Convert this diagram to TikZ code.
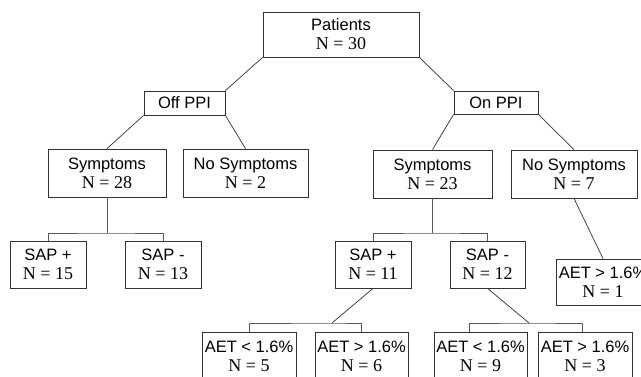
\documentclass[tikz,border=0pt]{standalone}
\usepackage{fontspec}
\setmainfont{Liberation Serif}
\setsansfont{Liberation Sans}
\newcommand\twoline[2]{{\sffamily\fontsize{16.5}{19}\selectfont #1}\\{\rmfamily\fontsize{18}{19}\selectfont #2}}
\tikzset{
  box/.style={draw=black!80, line width=0.8pt, inner sep=0pt, align=center,
    font=\rmfamily\fontsize{18}{19}\selectfont},
  onebox/.style={draw=black!80, line width=0.8pt, inner sep=0pt, align=center,
    font=\sffamily\fontsize{16.5}{19}\selectfont},
  conn/.style={draw=black!80, line width=0.7pt},
  brk/.style={draw=black!65, line width=0.8pt},
}
\begin{document}
\begin{tikzpicture}[x=1pt,y=-1pt]
\useasboundingbox (0,0) rectangle (641,377);
\clip (0,0) rectangle (641,377);
\fill[white] (0,0) rectangle (641,377);

\node[box, minimum width=156pt, minimum height=45pt] (pat) at (341,34.5) {\twoline{Patients}{N = 30}};
\node[onebox, minimum width=81pt, minimum height=24pt] (off) at (184.5,103) {Off PPI};
\node[onebox, minimum width=84pt, minimum height=23pt] (on) at (496,102.5) {On PPI};

\node[box, minimum width=118pt, minimum height=48pt] (sym1) at (107,173) {\twoline{Symptoms}{N = 28}};
\node[box, minimum width=125pt, minimum height=48pt] (nos1) at (245.5,173) {\twoline{No Symptoms}{N = 2}};
\node[box, minimum width=119pt, minimum height=48pt] (sym2) at (432.5,174) {\twoline{Symptoms}{N = 23}};
\node[box, minimum width=126pt, minimum height=48pt] (nos2) at (574,174) {\twoline{No Symptoms}{N = 7}};

\node[box, minimum width=76pt, minimum height=47pt] (sapp1) at (48,264.5) {\twoline{SAP +}{N = 15}};
\node[box, minimum width=76pt, minimum height=47pt] (sapm1) at (163,264.5) {\twoline{SAP -}{N = 13}};
\node[box, minimum width=76pt, minimum height=47pt] (sapp2) at (373,264.5) {\twoline{SAP +}{N = 11}};
\node[box, minimum width=75pt, minimum height=47pt] (sapm2) at (487.5,264.5) {\twoline{SAP -}{N = 12}};

\node[box, minimum width=94pt, minimum height=46pt] (aet1) at (603,282) {\twoline{AET > 1.6\%}{N = 1}};

\node[box, minimum width=94pt, minimum height=48pt] (a5) at (249,356) {\twoline{AET < 1.6\%}{N = 5}};
\node[box, minimum width=93pt, minimum height=48pt] (a6) at (361.5,356) {\twoline{AET > 1.6\%}{N = 6}};
\node[box, minimum width=93pt, minimum height=48pt] (a9) at (480.5,356) {\twoline{AET < 1.6\%}{N = 9}};
\node[box, minimum width=94pt, minimum height=48pt] (a3) at (585,356) {\twoline{AET > 1.6\%}{N = 3}};

\draw[conn] (pat.south west) -- (off.north east);
\draw[conn] (pat.south east) -- (on.north west);
\draw[conn] (off.south west) -- (sym1.north);
\draw[conn] (off.south east) -- (nos1.north);
\draw[conn] (on.south west) -- (sym2.north);
\draw[conn] (on.south east) -- (nos2.north);

\coordinate (j1) at (107,233);
\draw[brk] (sym1.south) -- (j1);
\draw[brk] (sapp1.north) |- (j1) -| (sapm1.north);
\coordinate (j2) at (432.5,233);
\draw[brk] (sym2.south) -- (j2);
\draw[brk] (sapp2.north) |- (j2) -| (sapm2.north);

\draw[conn] (nos2.south) -- (aet1.north);

\coordinate (j3) at (332,323);
\draw[conn] (sapp2.south) -- (j3);
\draw[brk] (a5.north) |- (j3) -| (a6.north);
\coordinate (j4) at (529,323);
\draw[conn] (sapm2.south) -- (j4);
\draw[brk] ([xshift=-11.5pt]a9.north) |- (j4) -| ([xshift=-3pt]a3.north);
\end{tikzpicture}
\end{document}
